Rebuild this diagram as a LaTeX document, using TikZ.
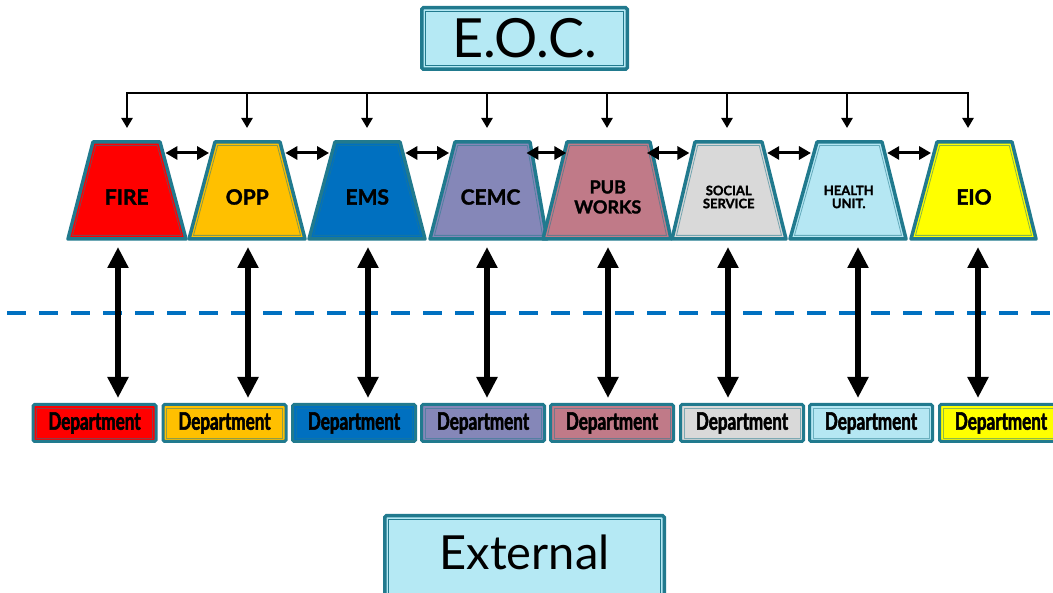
\documentclass[tikz,border=0pt]{standalone}
\usepackage{fontspec}
\setmainfont{Lato}
\newfontfamily\heavyfont[BoldFeatures={FakeBold=1.6}]{Lato}
\newfontfamily\deptfont[FakeStretch=0.71, BoldFeatures={FakeBold=2.2}]{Lato}
\usetikzlibrary{arrows.meta}
\definecolor{tealb}{RGB}{33,122,142}
\definecolor{eocfill}{RGB}{181,233,244}
\definecolor{firec}{RGB}{255,0,0}
\definecolor{oppc}{RGB}{255,192,0}
\definecolor{emsc}{RGB}{0,112,192}
\definecolor{cemcc}{RGB}{133,135,184}
\definecolor{pubc}{RGB}{192,122,136}
\definecolor{socc}{RGB}{217,217,217}
\definecolor{heac}{RGB}{181,231,243}
\definecolor{eioc}{RGB}{255,255,0}
\definecolor{dashblue}{RGB}{0,112,192}
\tikzset{
  trapout/.style={draw=tealb, line width=3.5pt, line join=round},
  trapin/.style={line width=0.8pt, line join=miter},
  traplabel/.style={align=center, inner sep=0pt, text=black},
  bigbox/.style={draw=tealb, line width=3.5pt, rounded corners=1.5pt, fill=eocfill, inner sep=0pt, outer sep=0pt},
  deptbox/.style={draw=tealb, line width=3pt, rounded corners=1.5pt, inner sep=0pt, outer sep=0pt, minimum width=123pt, minimum height=37pt},
  innerline/.style={line width=0.8pt},
  bar/.style={line width=2.8pt, line cap=rect},
  downarrow/.style={line width=2.8pt, -{Triangle[length=10pt,width=11pt]}},
  harrow/.style={line width=3pt, {Triangle[length=12pt,width=13pt]}-{Triangle[length=12pt,width=13pt]}},
  varrow/.style={line width=6pt, {Triangle[length=21pt,width=20pt]}-{Triangle[length=21pt,width=20pt]}},
  divider/.style={draw=dashblue, line width=4pt, dash pattern=on 19pt off 13pt, dash phase=-7pt},
}
% name, tl, tr, bl, br, fill, font, text
\newcommand\trapz[8]{%
  \draw[trapout, fill=#6] (#2,142) -- (#3,142) -- (#5,239) -- (#4,239) -- cycle;
  \draw[trapin, draw=tealb!55!#6] ({#2+2.7},145.6) -- ({#3-2.7},145.6) -- ({#5-4.5},235.4) -- ({#4+4.5},235.4) -- cycle;
  \node[traplabel, font=#7] (#1) at ({(#2+#3+#4+#5)/4},197) {#8};
  \coordinate (#1-r) at ({#3+(#5-#3)*0.112+2.5},153);
  \coordinate (#1-l) at ({#2-(#2-#4)*0.112-3},153);
}
\newcommand\deptb[3]{%
  \node[deptbox, fill=#3] (#1) at (#2,423) {\raisebox{-1.5pt}{\fontsize{24}{26}\deptfont\bfseries Department}};
  \draw[innerline, draw=tealb!50!#3] ([shift={(3.5pt,-3.5pt)}]#1.north west) rectangle ([shift={(-3.5pt,3.5pt)}]#1.south east);
}
\begin{document}
\begin{tikzpicture}[x=1pt, y=-1pt]
\useasboundingbox (0,0) rectangle (1053,593);
% EOC
\node[bigbox, minimum width=205.5pt, minimum height=61.5pt] (eoc) at (524.5,38.5) {\fontsize{54}{58}\selectfont E.O.C.};
\draw[innerline, draw=tealb] ([shift={(3.5pt,-3.5pt)}]eoc.north west) rectangle ([shift={(-3.5pt,3.5pt)}]eoc.south east);
% trapezoids
\trapz{fire}{93}{160}{68}{186}{firec}{\fontsize{21}{23}\heavyfont\bfseries}{FIRE}
\trapz{opp}{215}{280}{189}{305}{oppc}{\fontsize{21}{23}\heavyfont\bfseries}{OPP}
\trapz{ems}{335}{400}{309}{425}{emsc}{\fontsize{21}{23}\heavyfont\bfseries}{EMS}
\trapz{cemc}{455}{530}{430}{547}{cemcc}{\fontsize{21}{23}\heavyfont\bfseries}{CEMC}
\trapz{pub}{567}{650}{543}{671}{pubc}{\fontsize{18}{20}\heavyfont\bfseries}{PUB\\WORKS}
\trapz{soc}{695}{762}{672}{786}{socc}{\fontsize{13}{13}\heavyfont\bfseries}{SOCIAL\\SERVICE}
\trapz{hea}{817}{882}{790}{906}{heac}{\fontsize{13}{13}\heavyfont\bfseries}{HEALTH\\UNIT.}
\trapz{eio}{937}{1012}{911}{1036}{eioc}{\fontsize{21}{23}\heavyfont\bfseries}{EIO}
% horizontal arrows
\draw[harrow] (fire-r) -- (opp-l);
\draw[harrow] (opp-r) -- (ems-l);
\draw[harrow] (ems-r) -- (cemc-l);
\draw[harrow] ([xshift=-8pt]cemc-r) -- ([xshift=5pt]pub-l);
\draw[harrow] ([xshift=-8pt]pub-r) -- (soc-l);
\draw[harrow] (soc-r) -- (hea-l);
\draw[harrow] (hea-r) -- (eio-l);
% top distribution bar
\foreach \n/\x in {fire/127, opp/247, ems/367, cemc/487, pub/607, soc/727, hea/847, eio/968}{
  \coordinate (\n-bar) at (\x,93);
  \coordinate (\n-in) at (\x,128);
}
\draw[bar] (fire-bar) -- (eio-bar);
\foreach \n in {fire, opp, ems, cemc, pub, soc, hea, eio}{
  \draw[downarrow] (\n-bar) -- (\n-in);
}
% divider
\coordinate (divl) at (0,313);
\coordinate (divr) at (1053,313);
\draw[divider] (divl) -- (divr);
% department boxes
\deptb{d1}{94.5}{firec}
\deptb{d2}{224.5}{oppc}
\deptb{d3}{354}{emsc}
\deptb{d4}{483}{cemcc}
\deptb{d5}{612}{pubc}
\deptb{d6}{742}{socc}
\deptb{d7}{871}{heac}
\deptb{d8}{1001}{eioc}
% vertical arrows
\foreach \n/\x/\d in {fire/118/d1, opp/248/d2, ems/368/d3, cemc/487/d4, pub/608/d5, soc/728/d6, hea/858/d7, eio/978/d8}{
  \coordinate (\n-v) at (\x,247);
  \coordinate (\d-v) at (\x,398);
  \draw[varrow] (\n-v) -- (\d-v);
}
% external
\draw[bigbox] (384.75,515.75) rectangle (664.25,606);
\draw[innerline, draw=tealb] (388.25,519.25) rectangle (660.75,606);
\node[inner sep=0pt] (ext) at (524.5,552) {\fontsize{47}{50}\selectfont External};
\end{tikzpicture}
\end{document}
